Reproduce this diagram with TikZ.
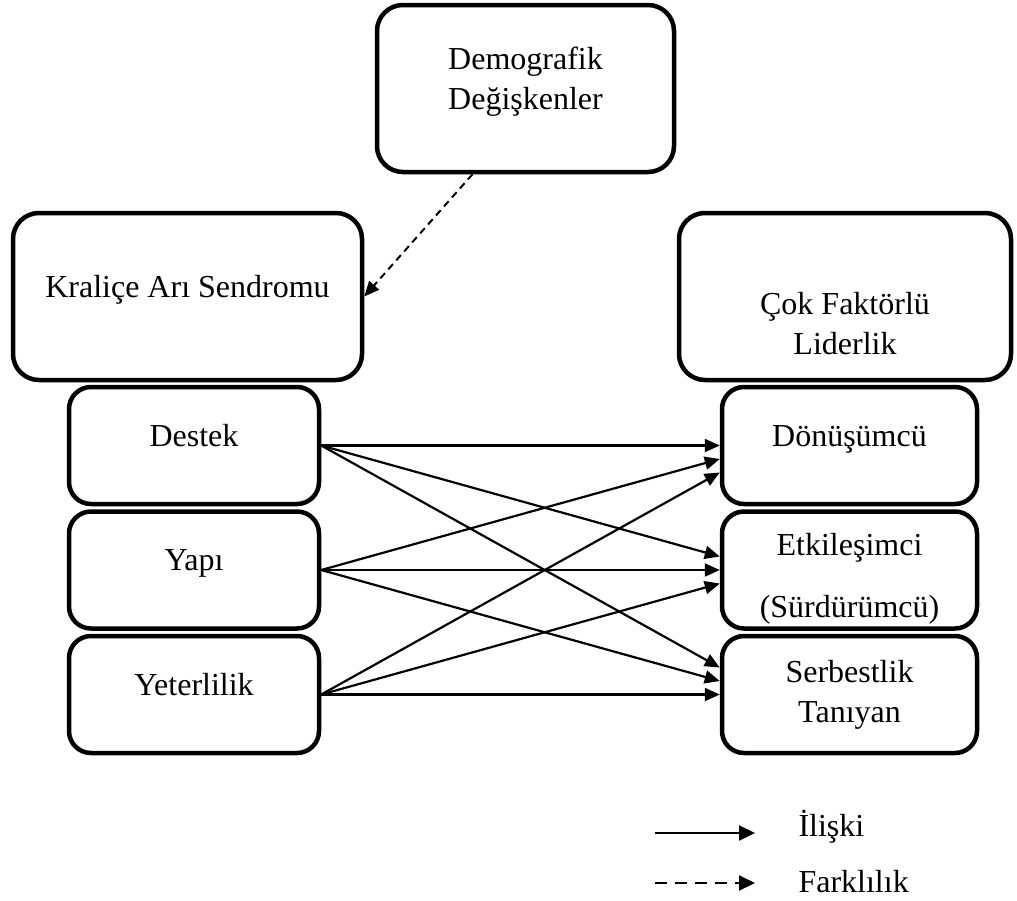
\documentclass[tikz,border=0pt]{standalone}
\usepackage{fontspec}
\setmainfont{Liberation Serif}
\usetikzlibrary{arrows.meta}

\begin{document}
\begin{tikzpicture}[x=1pt, y=-1pt, node distance={124.5pt},
	font=\fontsize{32}{40}\selectfont,
	big/.style = {draw, line width=4.5pt, rounded corners=26pt, align=center, minimum height=167pt},
	small/.style = {draw, line width=4.5pt, rounded corners=22pt, align=center, minimum height=117pt},
	oneline/.style = {text height=24pt, text depth=23pt},
	rel/.style = {line width=2.2pt, -{Triangle[length=15pt,width=13pt]}},
	diff/.style = {line width=2pt, dash pattern=on 7pt off 5pt, -{Triangle[length=15pt,width=13pt]}}]
	\useasboundingbox (0,0) rectangle (1017,900);
	\node[big, minimum width=297pt, label={[align=center, yshift=7pt]center:Demografik\\Değişkenler}] (demo) at (525.5,88.5) {};
	\node[big, oneline, minimum width=349pt] (ka) at (187.5,296.5) {Kraliçe Arı Sendromu};
	\node[big, minimum width=332pt, label={[align=center, yshift=-27pt]center:Çok Faktörlü\\Liderlik}] (cfl) at (845,296.5) {};
	\node[small, oneline, minimum width=250pt] (destek) at (194,445.5) {Destek};
	\node[small, oneline, minimum width=250pt] (yapi) [below of=destek] {Yapı};
	\node[small, oneline, minimum width=250pt] (yeterlilik) [below of=yapi] {Yeterlilik};
	\node[small, oneline, minimum width=255pt] (donusumcu) at (849.5,445.5) {Dönüşümcü};
	\node[small, minimum width=255pt, label={[align=center, yshift=-9pt]center:Etkileşimci\\[22pt](Sürdürümcü)}] (etkilesimci) [below of=donusumcu] {};
	\node[small, minimum width=255pt] (serbestlik) [below of=etkilesimci] {Serbestlik\\Tanıyan};
	\draw[diff] ([xshift=-53pt]demo.south) -- (ka.east);
	\foreach \src [count=\i] in {destek,yapi,yeterlilik}
		\foreach \dst [count=\j] in {donusumcu,etkilesimci,serbestlik}
			\draw[rel] (\src.east) -- ([yshift={-13.5pt*(\i-\j)}]\dst.west);
	% legend
	\coordinate (ilstart) at (655,833);
	\coordinate (ilend) at (755,833);
	\coordinate (fkstart) at (655,883);
	\coordinate (fkend) at (755,883);
	\draw[rel, -{Triangle[length=16pt,width=15pt]}] (ilstart) -- (ilend);
	\draw[diff, dash pattern=on 12pt off 8pt, -{Triangle[length=16pt,width=15pt]}] (fkstart) -- (fkend);
	\node[anchor=west] (iliski) at (795,827) {İlişki};
	\node[anchor=west] (farklilik) at (795,882) {Farklılık};
\end{tikzpicture}
\end{document}
